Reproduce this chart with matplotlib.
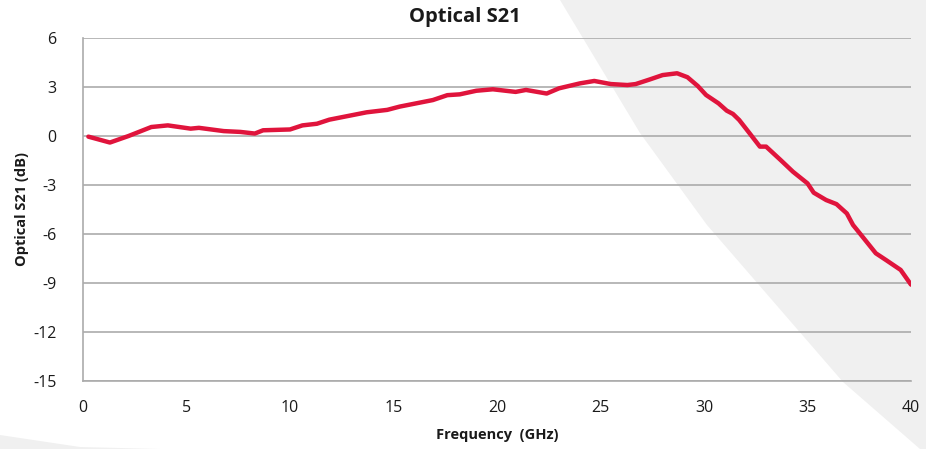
"""
Optical S21 frequency response chart.
"""

import matplotlib
matplotlib.use("Agg")
import matplotlib.pyplot as plt
from matplotlib.patches import Polygon

plt.rcParams["axes.unicode_minus"] = False

# ─────────────────────────────────────────────
# DATA
# ─────────────────────────────────────────────
freq_ghz = [0.26, 1.3, 2.2, 3.3, 4.1, 5.2, 5.6, 6.8, 7.6, 8.3, 8.7, 10.0, 10.6,
            11.3, 11.9, 12.9, 13.7, 14.7, 15.3, 16.1, 16.9, 17.6, 18.2, 19.0,
            19.8, 20.9, 21.4, 22.4, 23.0, 24.0, 24.7, 25.5, 26.3, 26.7, 27.4,
            28.0, 28.7, 29.2, 29.7, 30.1, 30.7, 31.1, 31.4, 31.7, 32.2, 32.7,
            33.0, 33.7, 34.3, 35.0, 35.3, 35.9, 36.4, 36.9, 37.2, 37.4, 38.3,
            38.8, 39.5, 40.0]
s21_db = [-0.04, -0.4, 0.0, 0.55, 0.65, 0.45, 0.5, 0.3, 0.25, 0.15, 0.35, 0.4,
          0.65, 0.75, 1.0, 1.25, 1.45, 1.6, 1.8, 2.0, 2.2, 2.5, 2.55, 2.77,
          2.86, 2.7, 2.82, 2.6, 2.92, 3.22, 3.37, 3.18, 3.12, 3.18, 3.47, 3.73,
          3.84, 3.6, 3.06, 2.51, 2.0, 1.55, 1.35, 0.98, 0.17, -0.65, -0.65,
          -1.47, -2.19, -2.9, -3.47, -3.92, -4.17, -4.74, -5.45, -5.76, -7.18,
          -7.6, -8.2, -9.1]

x_ticks = [0, 5, 10, 15, 20, 25, 30, 35, 40]
y_ticks = [-15, -12, -9, -6, -3, 0, 3, 6]

C_LINE = "#E0143C"
C_GRID = "#ABABAB"
C_SHADE = "#F0F0F0"
C_TEXT = "#1A1A1A"
FONT = "Open Sans"

W, H = 926, 449
fig = plt.figure(figsize=(W / 100, H / 100), dpi=100)
fig.patch.set_facecolor("white")


def px(pts):
    # pixel coords -> figure fraction
    return [(x / W, 1 - y / H) for x, y in pts]


# light grey decorative background shapes
fig.add_artist(Polygon(px([(560, 0), (640, 133), (707, 225), (843, 382),
                           (920, 449), (926, 449), (926, 0)]),
                       closed=True, transform=fig.transFigure,
                       facecolor=C_SHADE, edgecolor="none", zorder=0))
fig.add_artist(Polygon(px([(0, 435), (80, 447), (160, 449), (0, 449)]),
                       closed=True, transform=fig.transFigure,
                       facecolor=C_SHADE, edgecolor="none", zorder=0))

ax = fig.add_axes([83 / W, 1 - 381 / H, (911 - 83) / W, (381 - 38) / H])
ax.patch.set_alpha(0)
ax.set_zorder(2)

ax.plot(freq_ghz, s21_db, color=C_LINE, lw=3.2, solid_capstyle="round",
        solid_joinstyle="round", zorder=3)

ax.set_xlim(0, 40)
ax.set_ylim(-15, 6)
ax.set_xticks(x_ticks)
ax.set_yticks(y_ticks)
ax.yaxis.grid(True, color=C_GRID, lw=1.2)
ax.set_axisbelow(True)

for side in ("top", "right"):
    ax.spines[side].set_visible(False)
for side in ("left", "bottom"):
    ax.spines[side].set_color(C_GRID)
    ax.spines[side].set_linewidth(1.2)

ax.tick_params(length=0, labelsize=11.5, colors=C_TEXT)
ax.tick_params(axis="x", pad=14)
ax.tick_params(axis="y", pad=19)
for lab in ax.get_xticklabels() + ax.get_yticklabels():
    lab.set_fontfamily(FONT)

fig.text(465 / W, 1 - 17 / H, "Optical S21", fontfamily=FONT, fontsize=14.5,
         fontweight="bold", color=C_TEXT, ha="center", va="center")
fig.text(497 / W, 1 - 435 / H, "Frequency  (GHz)", fontfamily=FONT,
         fontsize=10.5, fontweight="bold", color=C_TEXT,
         ha="center", va="center")
fig.text(22 / W, 1 - 209 / H, "Optical S21 (dB)", fontfamily=FONT,
         fontsize=10.5, fontweight="bold", color=C_TEXT,
         ha="center", va="center", rotation=90)

fig.savefig("out.png", dpi=100, facecolor="white")
plt.close(fig)
